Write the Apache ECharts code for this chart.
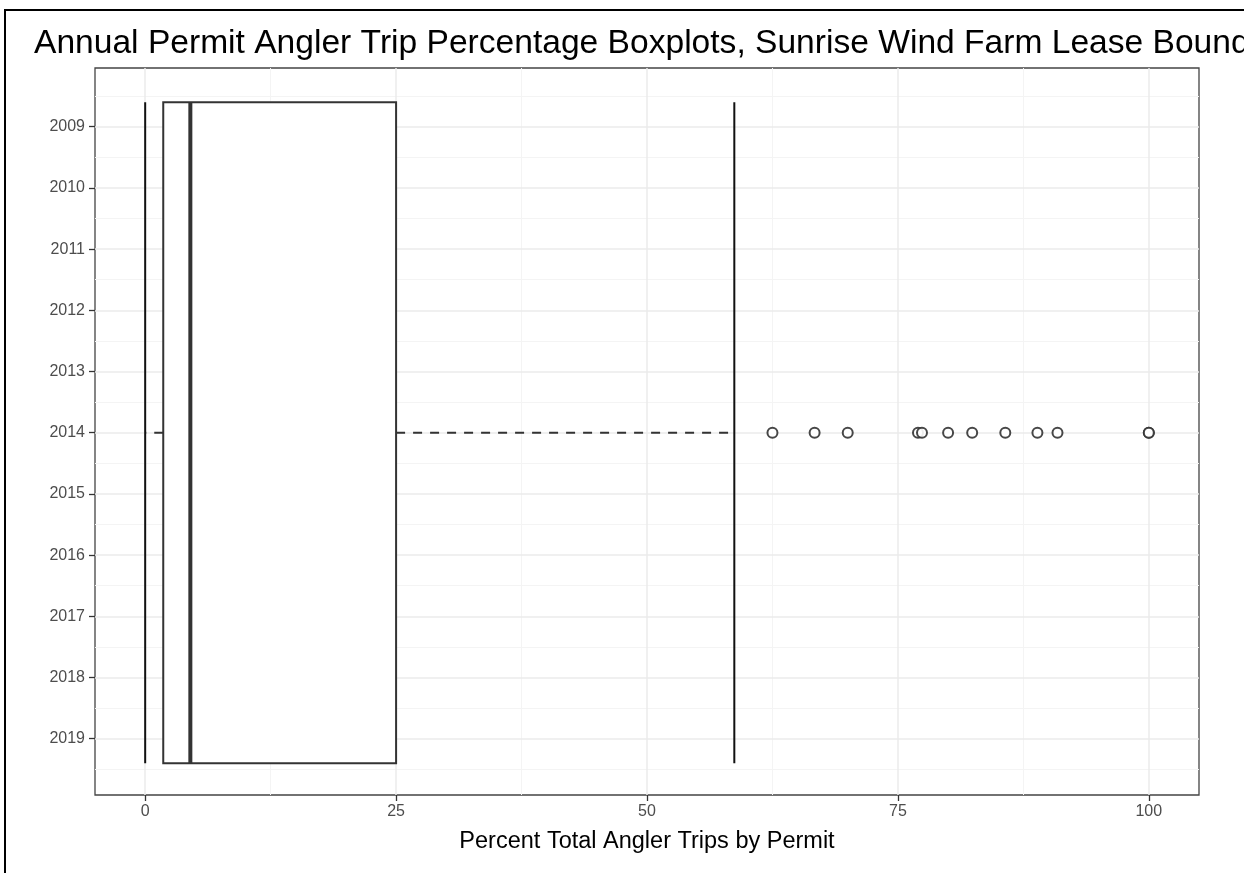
<!DOCTYPE html>
<html>
<head>
<meta charset="utf-8">
<title>Annual Permit Angler Trip Percentage Boxplots</title>
<script src="https://cdn.jsdelivr.net/npm/echarts@6/dist/echarts.min.js"></script>
<style>
  html, body { margin: 0; padding: 0; background: #fff; }
  #chart { width: 1244px; height: 873px; }
</style>
</head>
<body>
<div id="chart"></div>
<script>
// box stats: lower whisker, Q1, median, Q3, upper whisker
const boxStats = [0, 1.8, 4.5, 25, 58.7];
// vertical extent of the box (the year axis is continuous, one group centred on 2014)
const boxYears = [2008.6, 2014, 2019.4];
const outlierYear = 2014;
const outlierValues = [62.5, 66.7, 70, 77.0, 77.4, 80, 82.4, 85.7, 88.9, 90.9, 100, 100];

const yearTicks = [2009, 2010, 2011, 2012, 2013, 2014, 2015, 2016, 2017, 2018, 2019];
const yearMinor = [2008.5, 2009.5, 2010.5, 2011.5, 2012.5, 2013.5, 2014.5, 2015.5, 2016.5, 2017.5, 2018.5, 2019.5];
const pctTicks = [0, 25, 50, 75, 100];
const pctMinor = [12.5, 37.5, 62.5, 87.5];

const FONT = "'Liberation Sans', Arial, sans-serif";
const GRID_MAJOR = "#ebebeb";
const GRID_MINOR = "#f4f4f4";
const LABEL = "#4d4d4d";

const chart = echarts.init(document.getElementById("chart"), null, { renderer: "canvas" });

function drawBox(params, api) {
  const top = api.coord([0, api.value(5)])[1];
  const mid = api.coord([0, api.value(6)])[1];
  const bottom = api.coord([0, api.value(7)])[1];
  const x = (i) => api.coord([api.value(i), api.value(6)])[0];
  const [xLo, xQ1, xMed, xQ3, xHi] = [x(0), x(1), x(2), x(3), x(4)];
  const dashed = { stroke: "#333", lineWidth: 2, lineDash: [9, 8] };
  return {
    type: "group",
    children: [
      { type: "line", shape: { x1: xQ1, y1: mid, x2: xLo, y2: mid }, style: dashed },
      { type: "line", shape: { x1: xQ3, y1: mid, x2: xHi, y2: mid }, style: dashed },
      { type: "line", shape: { x1: xLo, y1: top, x2: xLo, y2: bottom }, style: { stroke: "#111", lineWidth: 2 } },
      { type: "line", shape: { x1: xHi, y1: top, x2: xHi, y2: bottom }, style: { stroke: "#111", lineWidth: 2 } },
      {
        type: "rect",
        shape: { x: xQ1, y: top, width: xQ3 - xQ1, height: bottom - top },
        style: { fill: "#fff", stroke: "#333", lineWidth: 2 },
      },
      { type: "line", shape: { x1: xMed, y1: top, x2: xMed, y2: bottom }, style: { stroke: "#333", lineWidth: 4 } },
    ],
  };
}

const option = {
  backgroundColor: "#fff",
  animation: false,
  textStyle: { fontFamily: FONT },
  title: {
    text: "Annual Permit Angler Trip Percentage Boxplots, Sunrise Wind Farm Lease Boundary",
    left: 29,
    top: 22,
    textStyle: { fontFamily: FONT, fontSize: 33.6, fontWeight: "normal", color: "#000" },
  },
  graphic: [
    { type: "line", shape: { x1: 5, y1: 10, x2: 5, y2: 873 }, style: { stroke: "#000", lineWidth: 2 } },
    { type: "line", shape: { x1: 4, y1: 10, x2: 1244, y2: 10 }, style: { stroke: "#000", lineWidth: 2 } },
  ],
  grid: {
    left: 95,
    right: 45,
    top: 68,
    bottom: 78,
    show: true,
    backgroundColor: "#fff",
    borderColor: "#444",
    borderWidth: 1.3,
  },
  xAxis: [
    {
      type: "value",
      min: -5,
      max: 105,
      axisLine: { show: false, onZero: false },
      axisTick: { show: true, customValues: pctTicks, length: 6, lineStyle: { color: "#333", width: 1.3 } },
      axisLabel: { customValues: pctTicks, color: LABEL, fontSize: 16, margin: 9, fontFamily: FONT },
      splitLine: { show: true, lineStyle: { color: GRID_MAJOR, width: 1.5 } },
      name: "Percent Total Angler Trips by Permit",
      nameLocation: "middle",
      nameGap: 35,
      nameTextStyle: { color: "#000", fontSize: 23.5, fontFamily: FONT },
      z: 1,
    },
    {
      type: "value",
      min: -5,
      max: 105,
      axisLine: { show: false, onZero: false },
      axisTick: { show: false, customValues: pctMinor },
      axisLabel: { show: false, customValues: pctMinor },
      splitLine: { show: true, lineStyle: { color: GRID_MINOR, width: 1 } },
      z: 0,
    },
  ],
  yAxis: [
    {
      type: "value",
      min: 2008.04,
      max: 2019.92,
      inverse: true,
      axisLine: { show: false, onZero: false },
      axisTick: { show: true, customValues: yearTicks, length: 6, lineStyle: { color: "#333", width: 1.3 } },
      axisLabel: {
        customValues: yearTicks,
        formatter: (v) => String(v),
        color: LABEL,
        fontSize: 16,
        margin: 10,
        fontFamily: FONT,
      },
      splitLine: { show: true, lineStyle: { color: GRID_MAJOR, width: 1.5 } },
      z: 1,
    },
    {
      type: "value",
      min: 2008.04,
      max: 2019.92,
      inverse: true,
      axisLine: { show: false, onZero: false },
      axisTick: { show: false, customValues: yearMinor },
      axisLabel: { show: false, customValues: yearMinor },
      splitLine: { show: true, lineStyle: { color: GRID_MINOR, width: 1 } },
      z: 0,
    },
  ],
  series: [
    {
      type: "custom",
      xAxisIndex: 0,
      yAxisIndex: 0,
      renderItem: drawBox,
      encode: { x: [0, 1, 2, 3, 4], y: [5, 6, 7] },
      data: [[...boxStats, ...boxYears]],
      z: 3,
    },
    {
      type: "scatter",
      xAxisIndex: 0,
      yAxisIndex: 0,
      symbol: "emptyCircle",
      symbolSize: 10,
      itemStyle: { color: "#333", borderColor: "#333", borderWidth: 1.5, opacity: 0.9 },
      data: outlierValues.map((v) => [v, outlierYear]),
      z: 4,
    },
  ],
};

chart.setOption(option);
</script>
</body>
</html>
